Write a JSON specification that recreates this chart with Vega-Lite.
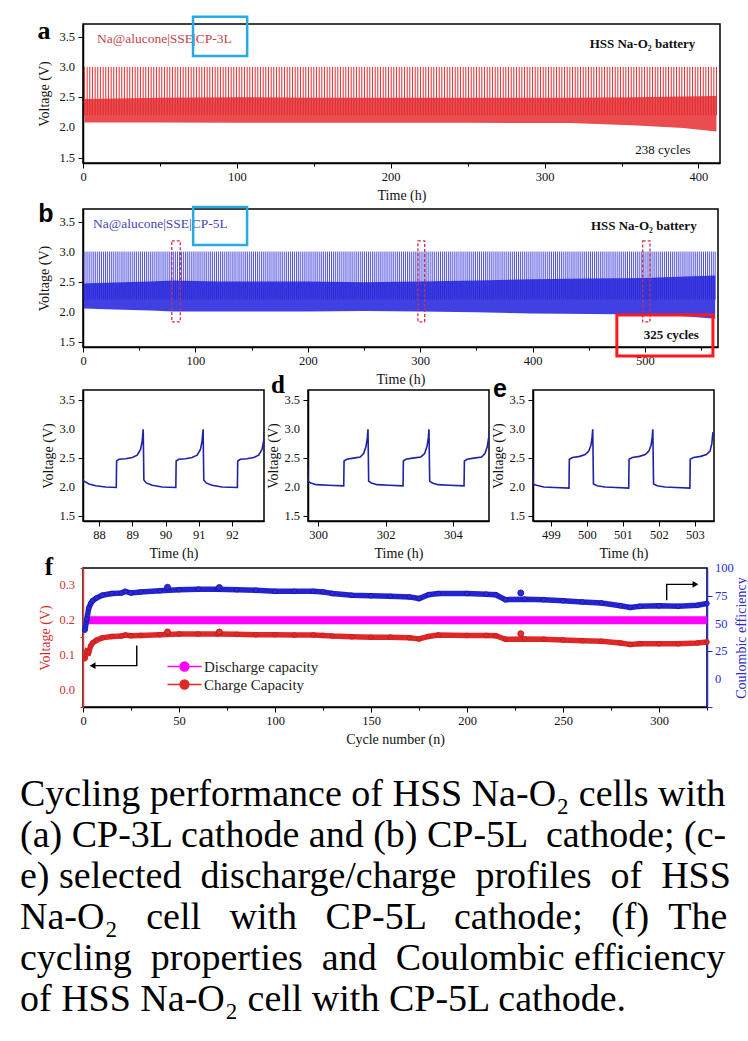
{
"$schema": "https://vega.github.io/schema/vega-lite/v6.json",
"background": "white",
"padding": {"left": 20, "top": 14, "right": 0, "bottom": 0},
"datasets": {
"cyc": [
{"t":0.9},{"t":2.7},{"t":4.4},{"t":6.1},{"t":7.9},{"t":9.6},{"t":11.3},{"t":13.1},{"t":14.8},{"t":16.5},{"t":18.3},{"t":20},{"t":21.7},{"t":23.5},{"t":25.2},
{"t":26.9},{"t":28.7},{"t":30.4},{"t":32.1},{"t":33.9},{"t":35.6},{"t":37.3},{"t":39.1},{"t":40.8},{"t":42.5},{"t":44.3},{"t":46},{"t":47.7},{"t":49.5},{"t":51.2},
{"t":52.9},{"t":54.7},{"t":56.4},{"t":58.1},{"t":59.9},{"t":61.6},{"t":63.3},{"t":65.1},{"t":66.8},{"t":68.5},{"t":70.3},{"t":72},{"t":73.7},{"t":75.5},{"t":77.2},
{"t":78.9},{"t":80.7},{"t":82.4},{"t":84.1},{"t":85.9},{"t":87.6},{"t":89.3},{"t":91.1},{"t":92.8},{"t":94.5},{"t":96.3},{"t":98},{"t":99.7},{"t":101.5},{"t":103.2},
{"t":104.9},{"t":106.7},{"t":108.4},{"t":110.1},{"t":111.9},{"t":113.6},{"t":115.3},{"t":117.1},{"t":118.8},{"t":120.5},{"t":122.3},{"t":124},{"t":125.7},{"t":127.5},{"t":129.2},
{"t":130.9},{"t":132.7},{"t":134.4},{"t":136.1},{"t":137.9},{"t":139.6},{"t":141.3},{"t":143.1},{"t":144.8},{"t":146.5},{"t":148.3},{"t":150},{"t":151.7},{"t":153.5},{"t":155.2},
{"t":156.9},{"t":158.7},{"t":160.4},{"t":162.1},{"t":163.9},{"t":165.6},{"t":167.3},{"t":169.1},{"t":170.8},{"t":172.5},{"t":174.3},{"t":176},{"t":177.7},{"t":179.5},{"t":181.2},
{"t":182.9},{"t":184.7},{"t":186.4},{"t":188.1},{"t":189.9},{"t":191.6},{"t":193.3},{"t":195.1},{"t":196.8},{"t":198.5},{"t":200.3},{"t":202},{"t":203.7},{"t":205.5},{"t":207.2},
{"t":208.9},{"t":210.7},{"t":212.4},{"t":214.1},{"t":215.9},{"t":217.6},{"t":219.3},{"t":221.1},{"t":222.8},{"t":224.5},{"t":226.3},{"t":228},{"t":229.7},{"t":231.5},{"t":233.2},
{"t":234.9},{"t":236.7},{"t":238.4},{"t":240.1},{"t":241.9},{"t":243.6},{"t":245.3},{"t":247.1},{"t":248.8},{"t":250.5},{"t":252.3},{"t":254},{"t":255.7},{"t":257.5},{"t":259.2},
{"t":260.9},{"t":262.7},{"t":264.4},{"t":266.1},{"t":267.9},{"t":269.6},{"t":271.3},{"t":273.1},{"t":274.8},{"t":276.5},{"t":278.3},{"t":280},{"t":281.7},{"t":283.5},{"t":285.2},
{"t":286.9},{"t":288.7},{"t":290.4},{"t":292.1},{"t":293.9},{"t":295.6},{"t":297.3},{"t":299.1},{"t":300.8},{"t":302.5},{"t":304.3},{"t":306},{"t":307.7},{"t":309.5},{"t":311.2},
{"t":312.9},{"t":314.7},{"t":316.4},{"t":318.1},{"t":319.9},{"t":321.6},{"t":323.3},{"t":325.1},{"t":326.8},{"t":328.5},{"t":330.3},{"t":332},{"t":333.7},{"t":335.5},{"t":337.2},
{"t":338.9},{"t":340.7},{"t":342.4},{"t":344.1},{"t":345.9},{"t":347.6},{"t":349.3},{"t":351.1},{"t":352.8},{"t":354.5},{"t":356.3},{"t":358},{"t":359.7},{"t":361.5},{"t":363.2},
{"t":364.9},{"t":366.7},{"t":368.4},{"t":370.1},{"t":371.9},{"t":373.6},{"t":375.3},{"t":377.1},{"t":378.8},{"t":380.5},{"t":382.3},{"t":384},{"t":385.7},{"t":387.5},{"t":389.2},
{"t":390.9},{"t":392.7},{"t":394.4},{"t":396.1},{"t":397.9},{"t":399.6},{"t":401.3},{"t":403.1},{"t":404.8},{"t":406.5},{"t":408.3},{"t":410},{"t":411.7},{"t":413.5},{"t":415.2},
{"t":416.9},{"t":418.7},{"t":420.4},{"t":422.1},{"t":423.9},{"t":425.6},{"t":427.3},{"t":429.1},{"t":430.8},{"t":432.5},{"t":434.3},{"t":436},{"t":437.7},{"t":439.5},{"t":441.2},
{"t":442.9},{"t":444.7},{"t":446.4},{"t":448.1},{"t":449.9},{"t":451.6},{"t":453.3},{"t":455.1},{"t":456.8},{"t":458.5},{"t":460.3},{"t":462},{"t":463.7},{"t":465.5},{"t":467.2},
{"t":468.9},{"t":470.7},{"t":472.4},{"t":474.1},{"t":475.9},{"t":477.6},{"t":479.3},{"t":481.1},{"t":482.8},{"t":484.5},{"t":486.3},{"t":488},{"t":489.7},{"t":491.5},{"t":493.2},
{"t":494.9},{"t":496.7},{"t":498.4},{"t":500.1},{"t":501.9},{"t":503.6},{"t":505.3},{"t":507.1},{"t":508.8},{"t":510.5},{"t":512.3},{"t":514},{"t":515.7},{"t":517.5},{"t":519.2},
{"t":520.9},{"t":522.7},{"t":524.4},{"t":526.1},{"t":527.9},{"t":529.6},{"t":531.3},{"t":533.1},{"t":534.8},{"t":536.5},{"t":538.3},{"t":540},{"t":541.7},{"t":543.5},{"t":545.2},
{"t":546.9},{"t":548.7},{"t":550.4},{"t":552.1},{"t":553.9},{"t":555.6},{"t":557.3},{"t":559.1},{"t":560.8},{"t":562.5}
],
"bandA": [
{"t":0.9,"lo":2.08,"hi":2.47},{"t":50,"lo":2.08,"hi":2.49},{"t":100,"lo":2.075,"hi":2.5},{"t":150,"lo":2.075,"hi":2.49},{"t":200,"lo":2.075,"hi":2.49},{"t":250,"lo":2.075,"hi":2.49},{"t":317,"lo":2.07,"hi":2.49},{"t":360,"lo":2.03,"hi":2.5},{"t":390,"lo":1.99,"hi":2.51},{"t":411.7,"lo":1.93,"hi":2.52}
],
"bandB": [
{"t":0.9,"lo":2.05,"hi":2.47},{"t":20,"lo":2.04,"hi":2.48},{"t":60,"lo":2.02,"hi":2.5},{"t":80,"lo":2.0,"hi":2.52},{"t":120,"lo":2.0,"hi":2.5},{"t":160,"lo":2.0,"hi":2.5},{"t":200,"lo":2.0,"hi":2.5},{"t":250,"lo":2.01,"hi":2.49},{"t":300,"lo":2.0,"hi":2.5},{"t":350,"lo":1.99,"hi":2.52},{"t":400,"lo":1.97,"hi":2.54},{"t":450,"lo":1.96,"hi":2.55},{"t":500,"lo":1.95,"hi":2.56},{"t":530,"lo":1.93,"hi":2.58},{"t":562.5,"lo":1.88,"hi":2.6}
],
"ylab": [{"v":1.5},{"v":2},{"v":2.5},{"v":3},{"v":3.5}],
"flL": [{"v":0},{"v":0.1},{"v":0.2},{"v":0.3}],
"flR": [{"ce":0},{"ce":25},{"ce":50},{"ce":75},{"ce":100}],
"sel": [{"a":79,"b":86.6},{"a":298,"b":304},{"a":498,"b":504.5}],
"prC": [
{"t":87.45,"v":3.0},{"t":87.48,"v":2.16},{"t":87.55,"v":2.1},{"t":87.7,"v":2.05},{"t":87.9,"v":2.02},{"t":88.2,"v":2.0},{"t":88.52,"v":1.99},{"t":88.53,"v":2.45},{"t":88.6,"v":2.48},{"t":88.8,"v":2.49},{"t":89.0,"v":2.51},{"t":89.15,"v":2.55},{"t":89.25,"v":2.65},{"t":89.3,"v":2.8},{"t":89.33,"v":3.0},
{"t":89.35,"v":2.12},{"t":89.42,"v":2.07},{"t":89.6,"v":2.03},{"t":89.9,"v":2.0},{"t":90.31,"v":1.99},{"t":90.32,"v":2.45},{"t":90.4,"v":2.48},{"t":90.6,"v":2.49},{"t":90.8,"v":2.51},{"t":90.95,"v":2.55},{"t":91.05,"v":2.65},{"t":91.1,"v":2.8},{"t":91.13,"v":3.0},
{"t":91.15,"v":2.12},{"t":91.22,"v":2.07},{"t":91.4,"v":2.03},{"t":91.7,"v":2.0},{"t":92.16,"v":1.99},{"t":92.17,"v":2.45},{"t":92.25,"v":2.48},{"t":92.45,"v":2.49},{"t":92.65,"v":2.51},{"t":92.8,"v":2.55},{"t":92.9,"v":2.65},{"t":92.95,"v":2.8},{"t":92.98,"v":3.0}
],
"prD": [
{"t":299.65,"v":3.0},{"t":299.7,"v":2.1},{"t":299.78,"v":2.07},{"t":299.95,"v":2.04},{"t":300.3,"v":2.03},{"t":300.76,"v":2.02},{"t":300.77,"v":2.45},{"t":300.85,"v":2.48},{"t":301.05,"v":2.5},{"t":301.25,"v":2.52},{"t":301.35,"v":2.58},{"t":301.42,"v":2.7},{"t":301.46,"v":2.85},{"t":301.48,"v":3.0},
{"t":301.5,"v":2.1},{"t":301.58,"v":2.07},{"t":301.75,"v":2.04},{"t":302.1,"v":2.03},{"t":302.52,"v":2.02},{"t":302.53,"v":2.45},{"t":302.6,"v":2.48},{"t":302.8,"v":2.5},{"t":303.05,"v":2.52},{"t":303.16,"v":2.58},{"t":303.23,"v":2.7},{"t":303.27,"v":2.85},{"t":303.29,"v":3.0},
{"t":303.31,"v":2.1},{"t":303.39,"v":2.07},{"t":303.55,"v":2.04},{"t":303.9,"v":2.03},{"t":304.33,"v":2.02},{"t":304.34,"v":2.45},{"t":304.42,"v":2.48},{"t":304.62,"v":2.5},{"t":304.85,"v":2.52},{"t":304.95,"v":2.58},{"t":305.02,"v":2.7},{"t":305.06,"v":2.85},{"t":305.08,"v":3.0}
],
"prE": [
{"t":498.45,"v":3.0},{"t":498.5,"v":2.05},{"t":498.6,"v":2.03},{"t":498.8,"v":2.0},{"t":499.1,"v":1.99},{"t":499.5,"v":1.98},{"t":499.51,"v":2.48},{"t":499.6,"v":2.51},{"t":499.8,"v":2.53},{"t":499.95,"v":2.56},{"t":500.05,"v":2.62},{"t":500.11,"v":2.72},{"t":500.14,"v":2.85},{"t":500.16,"v":3.0},
{"t":500.18,"v":2.05},{"t":500.28,"v":2.02},{"t":500.5,"v":2.0},{"t":500.8,"v":1.99},{"t":501.16,"v":1.98},{"t":501.17,"v":2.48},{"t":501.26,"v":2.51},{"t":501.46,"v":2.53},{"t":501.62,"v":2.56},{"t":501.72,"v":2.62},{"t":501.78,"v":2.72},{"t":501.81,"v":2.85},{"t":501.83,"v":3.0},
{"t":501.85,"v":2.05},{"t":501.95,"v":2.02},{"t":502.17,"v":2.0},{"t":502.47,"v":1.99},{"t":502.86,"v":1.98},{"t":502.87,"v":2.48},{"t":502.96,"v":2.51},{"t":503.16,"v":2.53},{"t":503.32,"v":2.56},{"t":503.42,"v":2.62},{"t":503.47,"v":2.75},{"t":503.5,"v":2.95}
],
"cap": [
{"n":1,"s":"Discharge capacity","v":0.2},{"n":325,"s":"Discharge capacity","v":0.2},
{"n":1,"s":"Charge Capacity","v":0.089},{"n":2,"s":"Charge Capacity","v":0.11},{"n":3,"s":"Charge Capacity","v":0.107},{"n":4,"s":"Charge Capacity","v":0.126},{"n":5,"s":"Charge Capacity","v":0.134},{"n":7,"s":"Charge Capacity","v":0.142},{"n":10,"s":"Charge Capacity","v":0.149},{"n":15,"s":"Charge Capacity","v":0.153},{"n":20,"s":"Charge Capacity","v":0.154},{"n":22,"s":"Charge Capacity","v":0.157},{"n":25,"s":"Charge Capacity","v":0.155},{"n":30,"s":"Charge Capacity","v":0.156},{"n":40,"s":"Charge Capacity","v":0.158},{"n":50,"s":"Charge Capacity","v":0.16},{"n":60,"s":"Charge Capacity","v":0.16},{"n":70,"s":"Charge Capacity","v":0.16},{"n":80,"s":"Charge Capacity","v":0.159},{"n":90,"s":"Charge Capacity","v":0.158},{"n":100,"s":"Charge Capacity","v":0.158},{"n":110,"s":"Charge Capacity","v":0.157},{"n":120,"s":"Charge Capacity","v":0.157},{"n":125,"s":"Charge Capacity","v":0.156},{"n":130,"s":"Charge Capacity","v":0.154},{"n":140,"s":"Charge Capacity","v":0.152},{"n":150,"s":"Charge Capacity","v":0.151},{"n":160,"s":"Charge Capacity","v":0.151},{"n":170,"s":"Charge Capacity","v":0.149},{"n":175,"s":"Charge Capacity","v":0.146},{"n":180,"s":"Charge Capacity","v":0.153},{"n":185,"s":"Charge Capacity","v":0.157},{"n":200,"s":"Charge Capacity","v":0.156},{"n":210,"s":"Charge Capacity","v":0.156},{"n":215,"s":"Charge Capacity","v":0.155},{"n":220,"s":"Charge Capacity","v":0.145},{"n":230,"s":"Charge Capacity","v":0.146},{"n":240,"s":"Charge Capacity","v":0.145},{"n":250,"s":"Charge Capacity","v":0.143},{"n":260,"s":"Charge Capacity","v":0.141},{"n":270,"s":"Charge Capacity","v":0.139},{"n":280,"s":"Charge Capacity","v":0.134},{"n":285,"s":"Charge Capacity","v":0.13},{"n":290,"s":"Charge Capacity","v":0.132},{"n":300,"s":"Charge Capacity","v":0.132},{"n":310,"s":"Charge Capacity","v":0.132},{"n":320,"s":"Charge Capacity","v":0.134},{"n":325,"s":"Charge Capacity","v":0.137}
],
"ce": [
{"n":1,"ce":44},{"n":2,"ce":54},{"n":3,"ce":64},{"n":4,"ce":68},{"n":5,"ce":70.5},{"n":7,"ce":73},{"n":10,"ce":75.5},{"n":15,"ce":77},{"n":20,"ce":77.5},{"n":22,"ce":79},{"n":25,"ce":77.5},{"n":30,"ce":78.5},{"n":40,"ce":79.5},{"n":50,"ce":80.5},{"n":60,"ce":81},{"n":70,"ce":81},{"n":80,"ce":80.5},{"n":90,"ce":80},{"n":100,"ce":79},{"n":110,"ce":79},{"n":120,"ce":79},{"n":125,"ce":78.5},{"n":130,"ce":77},{"n":140,"ce":75.5},{"n":150,"ce":75},{"n":160,"ce":74.5},{"n":170,"ce":74},{"n":175,"ce":72.5},{"n":180,"ce":76},{"n":185,"ce":77},{"n":200,"ce":77},{"n":210,"ce":76.5},{"n":215,"ce":76},{"n":220,"ce":71.5},{"n":230,"ce":72},{"n":240,"ce":71.5},{"n":250,"ce":70.5},{"n":260,"ce":69.5},{"n":270,"ce":68.5},{"n":280,"ce":66},{"n":285,"ce":64.5},{"n":290,"ce":65.5},{"n":300,"ce":66},{"n":310,"ce":65.5},{"n":320,"ce":66.5},{"n":325,"ce":68}
],
"arr": [
{"g":"L","k":0,"n":28,"v":0.127},{"g":"L","k":1,"n":28,"v":0.069},{"g":"L","k":2,"n":6,"v":0.069},
{"g":"R","k":0,"n":304,"v":0.257},{"g":"R","k":1,"n":304,"v":0.303},{"g":"R","k":2,"n":318,"v":0.303}
]
},
"spacing": -16,
"resolve": {"scale": {"color": "independent"}, "legend": {"color": "independent"}},
"vconcat": [
{
"spacing": -3,
"vconcat": [
{
"width": 637, "height": 139,
"layer": [
{"data": {"name": "bandA"}, "mark": {"type": "area", "color": "#e8383c", "opacity": 0.9},
 "encoding": {
  "x": {"field": "t", "type": "quantitative", "scale": {"domain": [0, 414], "nice": false, "zero": false},
   "axis": {"title": "Time (h)", "labelOverlap": false, "values": [0,50,100,150,200,250,300,350,400], "labelExpr": "datum.value % 100 == 0 ? datum.label : ''", "tickSize": {"condition": {"test": "datum.value % 100 == 0", "value": 5}, "value": 3}}},
  "y": {"field": "lo", "type": "quantitative", "scale": {"domain": [1.41, 3.71], "nice": false, "zero": false},
   "axis": {"title": "Voltage (V)", "labels": false, "titlePadding": 26, "values": [1.5,1.75,2,2.25,2.5,2.75,3,3.25,3.5], "tickSize": {"condition": {"test": "(datum.value*2) % 1 == 0", "value": 5}, "value": 3}}},
  "y2": {"field": "hi"}
 }},
{"data": {"name": "cyc"}, "transform": [{"filter": "datum.t < 412"}], "mark": {"type": "rule", "color": "#e02b30", "strokeWidth": 1},
 "encoding": {"x": {"field": "t", "type": "quantitative"}, "y": {"datum": 2.2}, "y2": {"datum": 3.0}}},
{"data": {"name": "ylab"}, "mark": {"type": "text", "align": "right", "baseline": "middle", "dx": -8, "fontSize": 12.5, "color": "#111"},
 "encoding": {"x": {"datum": 0}, "y": {"field": "v", "type": "quantitative"}, "text": {"field": "v", "type": "quantitative", "format": ".1f"}}},
{"data": {"values": [{}]}, "mark": {"type": "text", "align": "left", "baseline": "middle", "fontSize": 13.5, "color": "#c0454a", "text": "Na@alucone|SSE|CP-3L"},
 "encoding": {"x": {"datum": 9.1}, "y": {"datum": 3.46}}},
{"data": {"values": [{}]}, "mark": {"type": "text", "align": "right", "baseline": "middle", "fontSize": 13, "fontWeight": "bold", "color": "#111", "text": "HSS Na-O₂ battery"},
 "encoding": {"x": {"datum": 398}, "y": {"datum": 3.38}}},
{"data": {"values": [{}]}, "mark": {"type": "text", "align": "right", "baseline": "middle", "fontSize": 13, "color": "#111", "text": "238 cycles"},
 "encoding": {"x": {"datum": 394.8}, "y": {"datum": 1.63}}},
{"data": {"values": [{}]}, "mark": {"type": "text", "align": "center", "baseline": "middle", "fontSize": 26, "fontWeight": "bold", "color": "#000", "text": "a"},
 "encoding": {"x": {"datum": -25.4}, "y": {"datum": 3.6}}},
{"data": {"values": [{}]}, "mark": {"type": "rect", "filled": false, "color": "#27aae1", "strokeWidth": 2.5},
 "encoding": {"x": {"datum": 71.5}, "x2": {"datum": 106.7}, "y": {"datum": 3.83}, "y2": {"datum": 3.18}}}
]
},
{
"width": 635, "height": 138,
"layer": [
{"data": {"name": "bandB"}, "mark": {"type": "area", "color": "#2b2be0", "opacity": 0.9},
 "encoding": {
  "x": {"field": "t", "type": "quantitative", "scale": {"domain": [0, 565], "nice": false, "zero": false},
   "axis": {"title": "Time (h)", "labelOverlap": false, "values": [0,50,100,150,200,250,300,350,400,450,500,550], "labelExpr": "datum.value % 100 == 0 ? datum.label : ''", "tickSize": {"condition": {"test": "datum.value % 100 == 0", "value": 5}, "value": 3}}},
  "y": {"field": "lo", "type": "quantitative", "scale": {"domain": [1.41, 3.71], "nice": false, "zero": false},
   "axis": {"title": "Voltage (V)", "labels": false, "titlePadding": 26, "values": [1.5,1.75,2,2.25,2.5,2.75,3,3.25,3.5], "tickSize": {"condition": {"test": "(datum.value*2) % 1 == 0", "value": 5}, "value": 3}}},
  "y2": {"field": "hi"}
 }},
{"data": {"name": "cyc"}, "mark": {"type": "rule", "color": "#2626d8", "strokeWidth": 0.8},
 "encoding": {"x": {"field": "t", "type": "quantitative"}, "y": {"datum": 2.2}, "y2": {"datum": 3.0}}},
{"data": {"name": "sel"}, "mark": {"type": "rect", "filled": false, "color": "#c8324a", "strokeWidth": 1.3, "strokeDash": [3, 2]},
 "encoding": {"x": {"field": "a", "type": "quantitative"}, "x2": {"field": "b"}, "y": {"datum": 1.83}, "y2": {"datum": 3.18}}},
{"data": {"name": "ylab"}, "mark": {"type": "text", "align": "right", "baseline": "middle", "dx": -8, "fontSize": 12.5, "color": "#111"},
 "encoding": {"x": {"datum": 0}, "y": {"field": "v", "type": "quantitative"}, "text": {"field": "v", "type": "quantitative", "format": ".1f"}}},
{"data": {"values": [{}]}, "mark": {"type": "text", "align": "left", "baseline": "middle", "fontSize": 13.5, "color": "#4646b4", "text": "Na@alucone|SSE|CP-5L"},
 "encoding": {"x": {"datum": 8.9}, "y": {"datum": 3.46}}},
{"data": {"values": [{}]}, "mark": {"type": "text", "align": "right", "baseline": "middle", "fontSize": 13, "fontWeight": "bold", "color": "#111", "text": "HSS Na-O₂ battery"},
 "encoding": {"x": {"datum": 546}, "y": {"datum": 3.42}}},
{"data": {"values": [{}]}, "mark": {"type": "text", "align": "right", "baseline": "middle", "fontSize": 13, "fontWeight": "bold", "color": "#111", "text": "325 cycles"},
 "encoding": {"x": {"datum": 548}, "y": {"datum": 1.61}}},
{"data": {"values": [{}]}, "mark": {"type": "text", "align": "center", "baseline": "middle", "font": "Liberation Sans", "fontSize": 25, "fontWeight": "bold", "color": "#000", "text": "b"},
 "encoding": {"x": {"datum": -33}, "y": {"datum": 3.63}}},
{"data": {"values": [{}]}, "mark": {"type": "rect", "filled": false, "color": "#27aae1", "strokeWidth": 2.5},
 "encoding": {"x": {"datum": 98}, "x2": {"datum": 146}, "y": {"datum": 3.745}, "y2": {"datum": 3.11}}},
{"data": {"values": [{}]}, "mark": {"type": "rect", "filled": false, "color": "#ff1a1a", "strokeWidth": 3},
 "encoding": {"x": {"datum": 475}, "x2": {"datum": 560.5}, "y": {"datum": 1.945}, "y2": {"datum": 1.26}}}
]
}
]
},
{
"spacing": -8,
"resolve": {"scale": {"color": "independent"}, "legend": {"color": "independent"}},
"vconcat": [
{
"spacing": 0,
"hconcat": [
{
"width": 181, "height": 131,
"layer": [
{"data": {"name": "prC"}, "mark": {"type": "line", "color": "#1e22a6", "strokeWidth": 1.6, "clip": true},
 "encoding": {
  "x": {"field": "t", "type": "quantitative", "scale": {"domain": [87.52, 92.96], "nice": false, "zero": false},
   "axis": {"title": "Time (h)", "labelOverlap": false, "values": [88,88.5,89,89.5,90,90.5,91,91.5,92,92.5], "labelExpr": "datum.value % 1 == 0 ? format(datum.value, 'd') : ''", "tickSize": {"condition": {"test": "datum.value % 1 == 0", "value": 5}, "value": 3}}},
  "y": {"field": "v", "type": "quantitative", "scale": {"domain": [1.41, 3.68], "nice": false, "zero": false},
   "axis": {"title": "Voltage (V)", "labels": false, "titlePadding": 22, "values": [1.5,1.75,2,2.25,2.5,2.75,3,3.25,3.5], "tickSize": {"condition": {"test": "(datum.value*2) % 1 == 0", "value": 5}, "value": 3}}}
 }},
{"data": {"name": "ylab"}, "mark": {"type": "text", "align": "right", "baseline": "middle", "dx": -8, "fontSize": 12.5, "color": "#111"},
 "encoding": {"x": {"datum": 87.52}, "y": {"field": "v", "type": "quantitative"}, "text": {"field": "v", "type": "quantitative", "format": ".1f"}}}
]
},
{
"width": 181, "height": 131,
"layer": [
{"data": {"name": "prD"}, "mark": {"type": "line", "color": "#1e22a6", "strokeWidth": 1.6, "clip": true},
 "encoding": {
  "x": {"field": "t", "type": "quantitative", "scale": {"domain": [299.7, 305.07], "nice": false, "zero": false},
   "axis": {"title": "Time (h)", "labelOverlap": false, "values": [300,300.5,301,301.5,302,302.5,303,303.5,304,304.5,305], "labelExpr": "datum.value % 1 == 0 && datum.value < 305 ? format(datum.value, 'd') : ''", "tickSize": {"condition": {"test": "datum.value % 1 == 0", "value": 5}, "value": 3}}},
  "y": {"field": "v", "type": "quantitative", "scale": {"domain": [1.41, 3.68], "nice": false, "zero": false},
   "axis": {"title": "Voltage (V)", "labels": false, "titlePadding": 22, "values": [1.5,1.75,2,2.25,2.5,2.75,3,3.25,3.5], "tickSize": {"condition": {"test": "(datum.value*2) % 1 == 0", "value": 5}, "value": 3}}}
 }},
{"data": {"name": "ylab"}, "mark": {"type": "text", "align": "right", "baseline": "middle", "dx": -8, "fontSize": 12.5, "color": "#111"},
 "encoding": {"x": {"datum": 299.7}, "y": {"field": "v", "type": "quantitative"}, "text": {"field": "v", "type": "quantitative", "format": ".1f"}}},
{"data": {"values": [{}]}, "mark": {"type": "text", "align": "center", "baseline": "middle", "fontSize": 25, "fontWeight": "bold", "color": "#000", "text": "d"},
 "encoding": {"x": {"datum": 298.81}, "y": {"datum": 3.77}}}
]
},
{
"width": 181, "height": 131,
"layer": [
{"data": {"name": "prE"}, "mark": {"type": "line", "color": "#1e22a6", "strokeWidth": 1.6, "clip": true},
 "encoding": {
  "x": {"field": "t", "type": "quantitative", "scale": {"domain": [498.5, 503.53], "nice": false, "zero": false},
   "axis": {"title": "Time (h)", "labelOverlap": false, "values": [499,499.5,500,500.5,501,501.5,502,502.5,503,503.5], "labelExpr": "datum.value % 1 == 0 ? format(datum.value, 'd') : ''", "tickSize": {"condition": {"test": "datum.value % 1 == 0", "value": 5}, "value": 3}}},
  "y": {"field": "v", "type": "quantitative", "scale": {"domain": [1.41, 3.68], "nice": false, "zero": false},
   "axis": {"title": "Voltage (V)", "labels": false, "titlePadding": 22, "values": [1.5,1.75,2,2.25,2.5,2.75,3,3.25,3.5], "tickSize": {"condition": {"test": "(datum.value*2) % 1 == 0", "value": 5}, "value": 3}}}
 }},
{"data": {"name": "ylab"}, "mark": {"type": "text", "align": "right", "baseline": "middle", "dx": -8, "fontSize": 12.5, "color": "#111"},
 "encoding": {"x": {"datum": 498.5}, "y": {"field": "v", "type": "quantitative"}, "text": {"field": "v", "type": "quantitative", "format": ".1f"}}},
{"data": {"values": [{}]}, "mark": {"type": "text", "align": "center", "baseline": "middle", "font": "Liberation Sans", "fontSize": 25, "fontWeight": "bold", "color": "#000", "text": "e"},
 "encoding": {"x": {"datum": 497.58}, "y": {"datum": 3.7}}}
]
}
]
},
{
"width": 624, "height": 139,
"layer": [
{"layer": [
 {"data": {"name": "cap"}, "transform": [{"filter": "datum.s == 'Discharge capacity'"}], "mark": {"type": "line", "strokeWidth": 8},
  "encoding": {
   "x": {"field": "n", "type": "quantitative", "scale": {"domain": [0, 325], "nice": false, "zero": false},
    "axis": {"title": "Cycle number (n)", "labelOverlap": false, "values": [0,25,50,75,100,125,150,175,200,225,250,275,300,325], "labelExpr": "datum.value % 50 == 0 ? datum.label : ''", "tickSize": {"condition": {"test": "datum.value % 50 == 0", "value": 5}, "value": 3}}},
   "y": {"field": "v", "type": "quantitative", "scale": {"domain": [-0.05, 0.35], "nice": false, "zero": false},
    "axis": {"title": "Voltage (V)", "labels": false, "titlePadding": 27, "values": [-0.05,0,0.05,0.1,0.15,0.2,0.25,0.3,0.35], "tickSize": {"condition": {"test": "abs(datum.value*10 - round(datum.value*10)) < 0.001", "value": 5}, "value": 3}, "titleColor": "#d32f2f", "domainColor": "#e53935", "tickColor": "#d32f2f"}},
   "color": {"field": "s", "type": "nominal", "scale": {"domain": ["Discharge capacity", "Charge Capacity"], "range": ["#ff00ff", "#e02828"]},
    "legend": {"title": null, "orient": "none", "legendX": 92, "legendY": 89, "symbolType": "M-2,0H2M0.53,0A0.53,0.53,0,1,1,-0.53,0A0.53,0.53,0,1,1,0.53,0Z", "symbolSize": 289, "symbolStrokeWidth": 1.3, "labelOffset": 10, "labelFont": "Liberation Serif", "labelFontSize": 15, "labelColor": "#222", "rowPadding": 0,
     "encode": {"symbols": {"update": {"stroke": {"field": "value", "scale": "color"}, "fill": {"field": "value", "scale": "color"}}}}}
   }
  }},
 {"data": {"name": "cap"}, "transform": [{"filter": "datum.s == 'Charge Capacity'"}], "mark": {"type": "line", "strokeWidth": 5.5},
  "encoding": {"x": {"field": "n", "type": "quantitative"}, "y": {"field": "v", "type": "quantitative"}, "color": {"field": "s", "type": "nominal"}}},
 {"data": {"name": "cap"}, "transform": [{"filter": "datum.s == 'Charge Capacity'"}], "mark": {"type": "point", "filled": true, "size": 24, "stroke": "#b71c1c", "strokeWidth": 0.6, "opacity": 1},
  "encoding": {"x": {"field": "n", "type": "quantitative"}, "y": {"field": "v", "type": "quantitative"}, "color": {"field": "s", "type": "nominal"}}},
 {"data": {"values": [{"n": 44, "v": 0.166}, {"n": 71, "v": 0.166}, {"n": 228, "v": 0.161}]}, "mark": {"type": "point", "filled": true, "size": 36, "color": "#e53030", "stroke": "#a01515", "strokeWidth": 0.8, "opacity": 1},
  "encoding": {"x": {"field": "n", "type": "quantitative"}, "y": {"field": "v", "type": "quantitative"}}},
 {"data": {"name": "arr"}, "mark": {"type": "line", "color": "#000", "strokeWidth": 1.4},
  "encoding": {"x": {"field": "n", "type": "quantitative"}, "y": {"field": "v", "type": "quantitative"}, "detail": {"field": "g"}, "order": {"field": "k"}}},
 {"data": {"values": [{}]}, "mark": {"type": "point", "shape": "triangle-left", "filled": true, "size": 45, "color": "#000", "opacity": 1},
  "encoding": {"x": {"datum": 5}, "y": {"datum": 0.069}}},
 {"data": {"values": [{}]}, "mark": {"type": "point", "shape": "triangle-right", "filled": true, "size": 45, "color": "#000", "opacity": 1},
  "encoding": {"x": {"datum": 319}, "y": {"datum": 0.303}}},
 {"data": {"name": "flL"}, "mark": {"type": "text", "align": "right", "baseline": "middle", "dx": -8, "fontSize": 12.5, "color": "#d32f2f"},
  "encoding": {"x": {"datum": 0}, "y": {"field": "v", "type": "quantitative"}, "text": {"field": "v", "type": "quantitative", "format": ".1f"}}},
 {"data": {"values": [{}]}, "mark": {"type": "text", "align": "center", "baseline": "middle", "fontSize": 25, "fontWeight": "bold", "color": "#000", "text": "f"},
  "encoding": {"x": {"datum": -17.7}, "y": {"datum": 0.353}}}
]},
{"layer": [
 {"data": {"name": "ce"}, "mark": {"type": "line", "color": "#2323d0", "strokeWidth": 5.5},
  "encoding": {
   "x": {"field": "n", "type": "quantitative"},
   "y": {"field": "ce", "type": "quantitative", "scale": {"domain": [-25, 100], "nice": false, "zero": false},
    "axis": {"orient": "right", "title": "Coulombic efficiency", "labels": false, "titlePadding": 36, "titleAngle": 270, "values": [-25,-12.5,0,12.5,25,37.5,50,62.5,75,87.5,100], "tickSize": {"condition": {"test": "datum.value % 25 == 0", "value": 5}, "value": 3}, "titleColor": "#2b2bd0", "domainColor": "#2b2bd0", "tickColor": "#2b2bd0"}}
  }},
 {"data": {"name": "ce"}, "mark": {"type": "point", "filled": true, "size": 24, "color": "#2a2ae0", "stroke": "#10108a", "strokeWidth": 0.6, "opacity": 1},
  "encoding": {"x": {"field": "n", "type": "quantitative"}, "y": {"field": "ce", "type": "quantitative"}}},
 {"data": {"values": [{"n": 44, "ce": 82.7}, {"n": 71, "ce": 82.5}, {"n": 228, "ce": 77.6}]}, "mark": {"type": "point", "filled": true, "size": 36, "color": "#2a2ae0", "stroke": "#10108a", "strokeWidth": 0.8, "opacity": 1},
  "encoding": {"x": {"field": "n", "type": "quantitative"}, "y": {"field": "ce", "type": "quantitative"}}},
 {"data": {"name": "flR"}, "mark": {"type": "text", "align": "left", "baseline": "middle", "dx": 8, "fontSize": 12.5, "color": "#2b2bd0"},
  "encoding": {"x": {"datum": 325}, "y": {"field": "ce", "type": "quantitative"}, "text": {"field": "ce", "type": "quantitative", "format": "d"}}}
]}
],
"resolve": {"scale": {"y": "independent"}}
}
]
}
],
"title": {
 "text": ["Cycling performance of HSS Na-O₂ cells with", "(a) CP-3L cathode and (b) CP-5L \u00a0cathode; (c-", "e) selected \u00a0discharge/charge \u00a0profiles \u00a0of \u00a0HSS", "Na-O₂ \u00a0\u00a0cell \u00a0\u00a0with \u00a0\u00a0CP-5L \u00a0\u00a0cathode; \u00a0\u00a0(f) \u00a0The", "cycling \u00a0properties \u00a0and \u00a0Coulombic efficiency", "of HSS Na-O₂ cell with CP-5L cathode."],
 "orient": "bottom", "anchor": "start", "frame": "group", "font": "Liberation Serif", "fontSize": 38, "fontWeight": "normal", "lineHeight": 41, "offset": 29, "dx": -63, "color": "#000"
},
"config": {
 "font": "Liberation Serif",
 "view": {"stroke": "#000", "strokeWidth": 1.5},
 "axis": {"labelFont": "Liberation Serif", "labelFontSize": 12.5, "labelColor": "#111", "titleFont": "Liberation Serif", "titleFontSize": 14, "titleFontWeight": "normal", "titleColor": "#111", "domainColor": "#000", "domainWidth": 1.5, "tickColor": "#000", "tickWidth": 1, "grid": false, "labelOverlap": false, "labelFlush": false, "labelPadding": 2, "titlePadding": 6},
 "text": {"font": "Liberation Serif"}
}
}
